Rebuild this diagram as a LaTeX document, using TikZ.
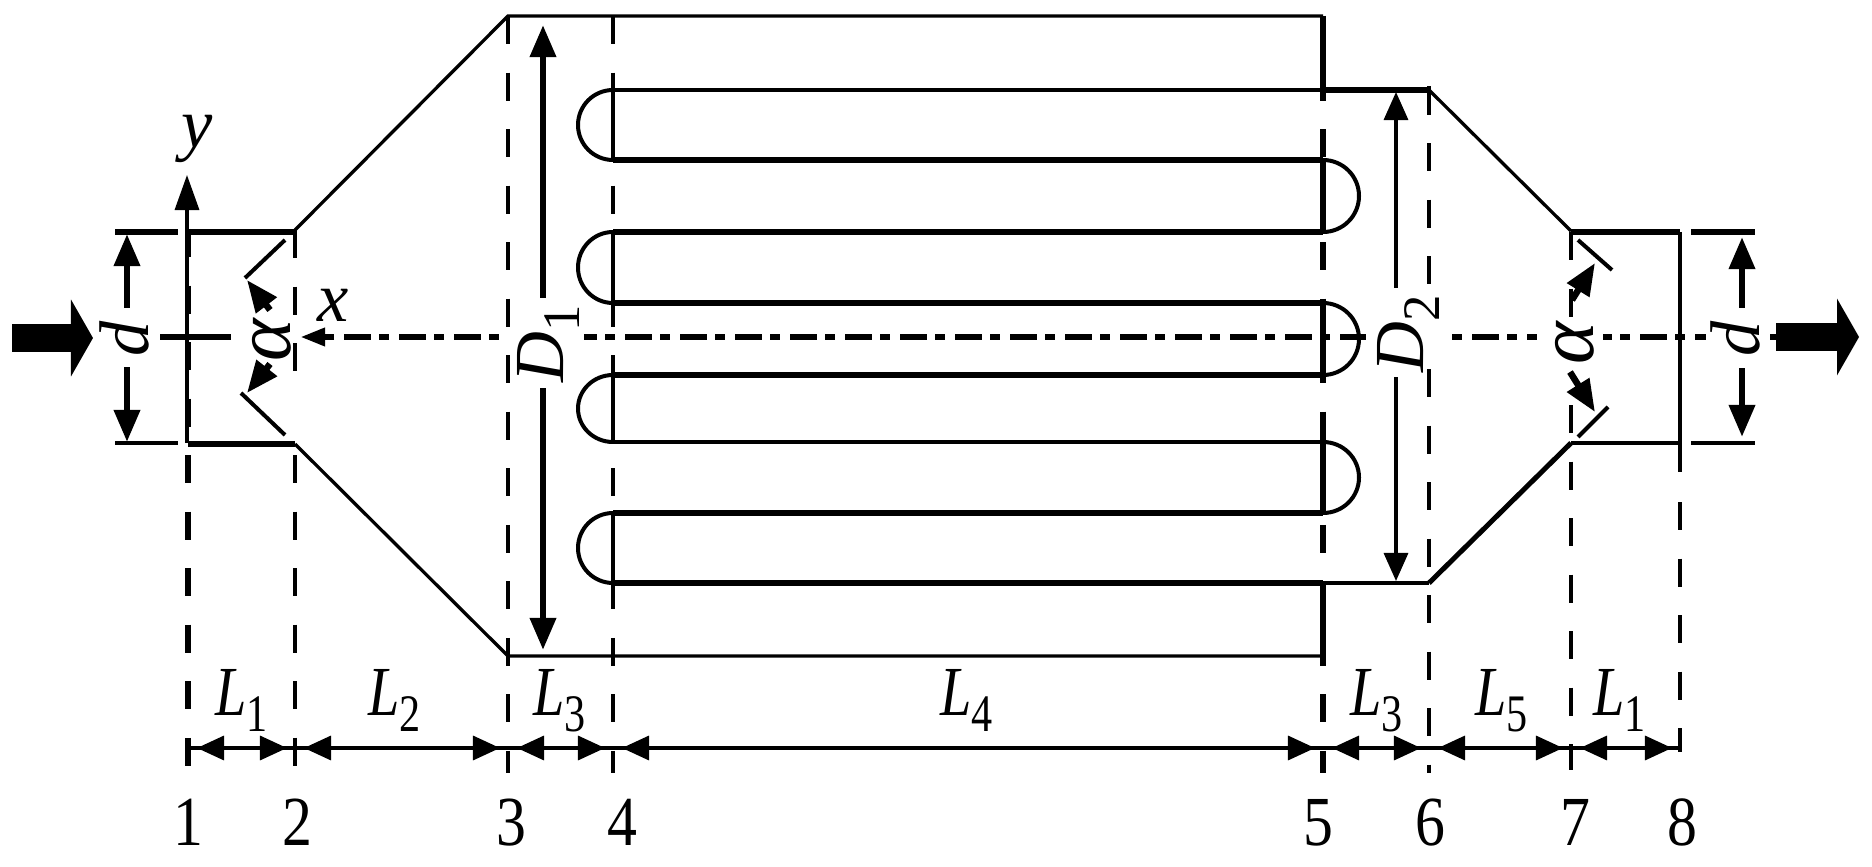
\documentclass[tikz,border=0pt]{standalone}
\usepackage{fontspec}
\setmainfont{Liberation Serif}
\usetikzlibrary{arrows.meta}

\newcommand{\subL}[1]{\textit{L}\raisebox{-.24em}{\fontsize{15}{18}\selectfont #1}}
\newcommand{\subD}[1]{\textit{D}\raisebox{-.24em}{\fontsize{15}{18}\selectfont #1}}

\tikzset{
    thinln/.style={line width=.033cm},
    thickln/.style={line width=.065cm},
    dashln/.style={dash pattern=on .28cm off .285cm},
    axisln/.style={thickln, dash pattern=on .27cm off .08cm on .10cm off .10cm},
    smalltip/.style={-{Triangle[length=.28cm,width=.24cm]}},
    bothtip/.style={{Triangle[length=.27cm,width=.24cm]}-{Triangle[length=.27cm,width=.24cm]}},
    blockarrow/.style={line width=.28cm, -{Triangle[length=.22cm,width=.76cm]}},
    vtext/.style={font=\fontsize{20}{24}\selectfont, inner sep=0pt, anchor=base west, rotate=90},
    steptext/.style={font=\fontsize{20}{24}\selectfont, inner sep=0pt, anchor=base, xscale=.85, transform shape},
    lentext/.style={font=\fontsize{20}{24}\selectfont, inner sep=0pt, anchor=base west, xscale=.8, transform shape},
    axtext/.style={font=\fontsize{20}{24}\itshape\selectfont, inner sep=0pt, anchor=base}
}

\begin{document}
\begin{tikzpicture}[x=.01cm, y=-.01cm]
    \useasboundingbox (0, 0) rectangle (1872, 867);

    % casing
    \begin{scope}[thinln]
        \draw (295, 230) -- (508, 16) -- (1323, 16);
        \draw (295, 444) -- (508, 656) -- (1323, 656);
        \draw (1429, 90) -- (1571, 231);
        \draw (1323, 583) -- (1429, 583);
        \draw (1571, 443) -- (1680, 443);
        \draw (1680, 232) -- (1680, 472);
        \draw (115, 443) -- (178, 443);
    \end{scope}
    \begin{scope}[thickln]
        \draw (115, 232) -- (178, 232);
        \draw (188, 232) -- (295, 232);
        \draw (188, 444) -- (295, 444);
        \draw (1323, 90) -- (1429, 90);
        \draw (1571, 232) -- (1680, 232);
        \draw (1691, 232) -- (1755, 232);
    \end{scope}
    \draw[line width=.05cm] (1429, 583) -- (1571, 443);
    \draw[thinln] (1691, 443) -- (1755, 443);

    % tubes
    \begin{scope}[thinln]
        \draw (613, 90) -- (1323, 90);
        \draw (613, 442) -- (1323, 442);
        \foreach \ytop/\ybot in {90/160, 232/303, 375/442, 513/583}
            \draw[line width=.04cm] (613, \ytop) arc[start angle=270, end angle=90, x radius=35, y radius={(\ybot-\ytop)/2}];
        \foreach \ytop/\ybot in {160/232, 303/375, 442/513}
            \draw[line width=.04cm] (1323, \ytop) arc[start angle=270, end angle=450, x radius=36, y radius={(\ybot-\ytop)/2}];
    \end{scope}
    \foreach \ytube in {160, 232, 303, 375, 513, 583}
        \draw[thickln] (613, \ytube) -- (1323, \ytube);

    % section lines
    \begin{scope}[thinln, dashln]
        \draw (508, 16) -- (508, 773);
        \draw (613, 16) -- (613, 773);
        \draw (295, 230) -- (295, 372);
        \draw (295, 455) -- (295, 767);
        \draw (1429, 86.5) -- (1429, 285);
        \draw (1429, 369) -- (1429, 773);
        \draw (1571, 232) -- (1571, 318);
        \draw (1571, 405) -- (1571, 770);
        \draw (1680, 502) -- (1680, 752);
    \end{scope}
    \foreach \ytop/\ybot in {90/160, 232/303, 375/442, 513/583}
        \draw[thinln] (613, \ytop) -- (613, \ybot);
    \draw[thickln, dashln] (1323, 16) -- (1323, 773);
    \foreach \ytop/\ybot in {16/90, 160/232, 303/375, 442/513, 583/656}
        \draw[thickln] (1323, \ytop) -- (1323, \ybot);
    \draw[thickln, dashln] (188, 229) -- (188, 767);

    % axes
    \draw[thinln, -{Triangle[length=.35cm,width=.24cm]}] (187, 443) -- (187, 175);
    \draw[thickln] (160, 337) -- (231, 337);
    \draw[thickln, -{Triangle[length=.25cm,width=.17cm]}] (334, 337) -- (300, 337);
    \draw[axisln] (344, 337) -- (502, 337);
    \draw[axisln, dash phase=.14cm] (584, 337) -- (1366, 337);
    \draw[axisln, dash phase=.35cm] (1452, 337) -- (1537, 337);
    \draw[axisln, dash phase=.18cm] (1603, 337) -- (1706, 337);
    \draw[thickln] (1770, 337) -- (1778, 337);

    % flow arrows
    \draw[blockarrow] (12, 338) -- (93, 338);
    \draw[blockarrow] (1776, 337) -- (1859, 337);

    % diameters
    \begin{scope}[thickln, -{Triangle[length=.32cm,width=.25cm]}]
        \draw (543, 298) -- (543, 25);
        \draw (543, 388) -- (543, 650);
        \draw (127, 308) -- (127, 234);
        \draw (127, 367) -- (127, 442);
        \draw (1742, 308) -- (1742, 237);
        \draw (1742, 368) -- (1742, 437);
    \end{scope}
    \begin{scope}[thinln, smalltip]
        \draw (1396, 288) -- (1396, 92);
        \draw (1396, 377) -- (1396, 581);
    \end{scope}

    % angles
    \begin{scope}[line width=.04cm]
        \draw (285, 240) -- (245, 278);
        \draw (285, 435) -- (241, 393);
        \draw (1578, 240) -- (1612, 270);
        \draw (1578, 437) -- (1608, 407);
    \end{scope}
    \begin{scope}[thickln, -{Triangle[length=.32cm,width=.25cm]}]
        \draw (270, 310) -- (247, 280);
        \draw (270, 364) -- (247, 393);
        \draw (1572, 300) -- (1595, 263);
        \draw (1570, 372) -- (1595, 412);
    \end{scope}

    % length line
    \draw[thinln] (188, 748) -- (1680, 748);
    \foreach \xa/\xb in {188/295, 295/508, 508/613, 613/1323, 1323/1429, 1429/1571, 1571/1680}
        \draw[thinln, bothtip, shorten <=.09cm, shorten >=.08cm] (\xa, 748) -- (\xb, 748);

    % labels
    \node[axtext] (y_lab) at (197, 148) {y};
    \node[axtext] (x_lab) at (333, 322) {x};
    \node[vtext] (d_in) at (148, 357) {\textit{d}};
    \node[vtext] (d_out) at (1759, 357) {\textit{d}};
    \node[vtext, font=\fontsize{23}{26}\selectfont] (alpha_in) at (290, 362) {\textit{α}};
    \node[vtext, font=\fontsize{23}{26}\selectfont] (alpha_out) at (1593, 365) {\textit{α}};
    \node[vtext] (D_1) at (563, 383) {\subD{1}};
    \node[vtext] (D_2) at (1423, 373) {\subD{2}};

    \node[lentext] (L_a) at (215, 715) {\subL{1}};
    \node[lentext] (L_b) at (368, 715) {\subL{2}};
    \node[lentext] (L_c) at (533, 715) {\subL{3}};
    \node[lentext] (L_d) at (940, 715) {\subL{4}};
    \node[lentext] (L_e) at (1350, 715) {\subL{3}};
    \node[lentext] (L_f) at (1475, 715) {\subL{5}};
    \node[lentext] (L_g) at (1593, 715) {\subL{1}};

    \node[steptext] (S_1) at (188, 845) {1};
    \node[steptext] (S_2) at (297, 845) {2};
    \node[steptext] (S_3) at (511, 845) {3};
    \node[steptext] (S_4) at (622, 845) {4};
    \node[steptext] (S_5) at (1318, 845) {5};
    \node[steptext] (S_6) at (1430, 845) {6};
    \node[steptext] (S_7) at (1575, 845) {7};
    \node[steptext] (S_8) at (1682, 845) {8};
\end{tikzpicture}
\end{document}
